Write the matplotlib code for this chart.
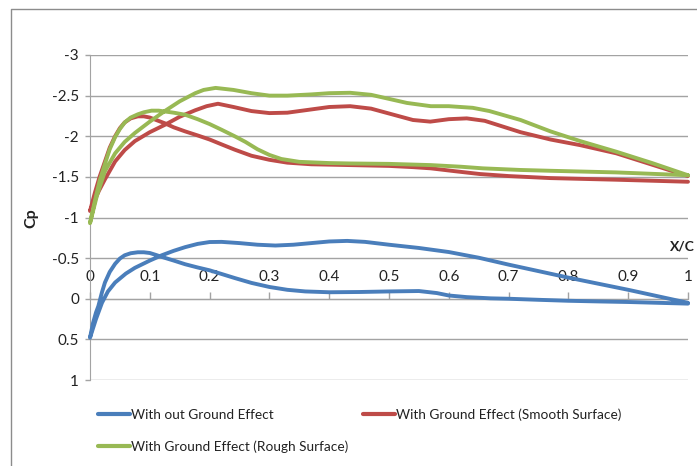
import matplotlib
matplotlib.use("Agg")
import matplotlib.pyplot as plt
from matplotlib.lines import Line2D

# ---------------------------------------------------------------------------
# Pressure coefficient distributions (Cp vs x/c).
# Each case is a closed loop: surface "a" traced from the trailing edge to the
# leading edge, then surface "b" from the leading edge back to the trailing edge.
# ---------------------------------------------------------------------------

# Without ground effect
x_free_a = [1.0, 0.95, 0.9, 0.85, 0.8, 0.75, 0.7, 0.65, 0.6, 0.55, 0.5, 0.46,
            0.43, 0.4, 0.37, 0.34, 0.31, 0.28, 0.25, 0.22, 0.2, 0.18, 0.159,
            0.14, 0.12, 0.1, 0.075, 0.06, 0.042, 0.03, 0.02, 0.01, 0.0]
cp_free_a = [0.05, -0.03, -0.11, -0.185, -0.26, -0.34, -0.42, -0.505, -0.575,
             -0.625, -0.665, -0.70, -0.712, -0.705, -0.685, -0.665, -0.655,
             -0.665, -0.685, -0.70, -0.698, -0.675, -0.635, -0.59, -0.535,
             -0.47, -0.38, -0.31, -0.2, -0.09, 0.05, 0.25, 0.48]
x_free_b = [0.0, 0.005, 0.01, 0.014, 0.02, 0.025, 0.033, 0.042, 0.05, 0.058,
            0.068, 0.08, 0.09, 0.1, 0.11, 0.12, 0.14, 0.159, 0.18, 0.2, 0.22,
            0.242, 0.27, 0.3, 0.33, 0.36, 0.4, 0.45, 0.5, 0.55, 0.58, 0.6,
            0.63, 0.67, 0.7, 0.75, 0.8, 0.85, 0.9, 0.95, 1.0]
cp_free_b = [0.48, 0.3, 0.17, 0.09, -0.08, -0.2, -0.33, -0.43, -0.495, -0.535,
             -0.56, -0.572, -0.572, -0.563, -0.54, -0.515, -0.47, -0.425,
             -0.385, -0.35, -0.305, -0.255, -0.195, -0.145, -0.11, -0.09,
             -0.08, -0.083, -0.09, -0.095, -0.07, -0.04, -0.02, -0.005, 0.0,
             0.013, 0.025, 0.033, 0.04, 0.05, 0.06]

# With ground effect, smooth surface
x_smooth_a = [1.0, 0.94, 0.88, 0.82, 0.77, 0.72, 0.69, 0.66, 0.63, 0.6, 0.569,
              0.54, 0.5, 0.47, 0.435, 0.4, 0.37, 0.33, 0.3, 0.27, 0.24, 0.214,
              0.195, 0.176, 0.15, 0.125, 0.1, 0.075, 0.058, 0.042, 0.025,
              0.015, 0.0]
cp_smooth_a = [-1.51, -1.65, -1.79, -1.89, -1.96, -2.05, -2.12, -2.19, -2.22,
               -2.21, -2.18, -2.2, -2.28, -2.34, -2.37, -2.36, -2.33, -2.29,
               -2.285, -2.31, -2.36, -2.40, -2.37, -2.32, -2.24, -2.14, -2.05,
               -1.94, -1.83, -1.69, -1.47, -1.33, -1.08]
x_smooth_b = [0.0, 0.008, 0.016, 0.025, 0.033, 0.042, 0.05, 0.058, 0.068, 0.08,
              0.09, 0.1, 0.125, 0.14, 0.159, 0.18, 0.2, 0.22, 0.242, 0.27, 0.3,
              0.33, 0.37, 0.435, 0.5, 0.54, 0.57, 0.61, 0.652, 0.7, 0.77, 0.88,
              1.0]
cp_smooth_b = [-1.08, -1.3, -1.5, -1.69, -1.86, -2.0, -2.1, -2.17, -2.22,
               -2.245, -2.245, -2.23, -2.16, -2.11, -2.06, -2.01, -1.96, -1.9,
               -1.835, -1.76, -1.71, -1.675, -1.655, -1.645, -1.635, -1.62,
               -1.605, -1.57, -1.535, -1.51, -1.485, -1.465, -1.44]

# With ground effect, rough surface
x_rough_a = [1.0, 0.94, 0.88, 0.82, 0.77, 0.72, 0.668, 0.64, 0.6, 0.57, 0.53,
             0.5, 0.47, 0.435, 0.4, 0.37, 0.33, 0.3, 0.27, 0.24, 0.21, 0.19,
             0.176, 0.15, 0.125, 0.1, 0.075, 0.058, 0.042, 0.025, 0.012, 0.0]
cp_rough_a = [-1.52, -1.67, -1.81, -1.94, -2.06, -2.2, -2.31, -2.35, -2.37,
              -2.37, -2.41, -2.46, -2.51, -2.535, -2.53, -2.515, -2.5, -2.5,
              -2.53, -2.57, -2.595, -2.57, -2.53, -2.43, -2.31, -2.18, -2.04,
              -1.93, -1.79, -1.57, -1.28, -0.93]
x_rough_b = [0.0, 0.008, 0.016, 0.025, 0.033, 0.042, 0.05, 0.058, 0.068, 0.08,
             0.09, 0.103, 0.115, 0.125, 0.14, 0.159, 0.18, 0.2, 0.22, 0.242,
             0.26, 0.28, 0.3, 0.32, 0.35, 0.4, 0.435, 0.5, 0.57, 0.62, 0.657,
             0.72, 0.77, 0.88, 1.0]
cp_rough_b = [-0.93, -1.2, -1.45, -1.66, -1.84, -1.99, -2.09, -2.17, -2.23,
              -2.27, -2.295, -2.315, -2.315, -2.305, -2.29, -2.265, -2.21,
              -2.15, -2.08, -2.0, -1.93, -1.84, -1.77, -1.72, -1.685, -1.67,
              -1.665, -1.66, -1.645, -1.625, -1.605, -1.585, -1.575, -1.555,
              -1.52]

series_labels = ["With out Ground Effect",
                 "With Ground Effect (Smooth Surface)",
                 "With Ground Effect (Rough Surface)"]
series_colors = ["#4A7EBB", "#BE4B48", "#98B954"]

x_ticks = [0.0, 0.1, 0.2, 0.3, 0.4, 0.5, 0.6, 0.7, 0.8, 0.9, 1.0]
x_tick_labels = ["0", "0.1", "0.2", "0.3", "0.4", "0.5", "0.6", "0.7", "0.8",
                 "0.9", "1"]
y_ticks = [-3.0, -2.5, -2.0, -1.5, -1.0, -0.5, 0.0, 0.5, 1.0]
y_tick_labels = ["-3", "-2.5", "-2", "-1.5", "-1", "-0.5", "0", "0.5", "1"]

plt.rcParams["font.family"] = ["Lato", "DejaVu Sans"]

W, H = 697, 466
fig = plt.figure(figsize=(W / 100, H / 100), dpi=100)

# chart-area frame (left and top edges)
fig.add_artist(Line2D([10.5 / W, 10.5 / W, 0.999], [0.0, 1 - 8.5 / H, 1 - 8.5 / H],
                      transform=fig.transFigure, color="#8c8c8c", linewidth=1.0))

ax = fig.add_axes([90 / W, 1 - 380 / H, 598 / W, 325 / H])
ax.set_xlim(0, 1)
ax.set_ylim(1, -3)

grid_col = "#a3a3a3"
ax.set_yticks(y_ticks)
ax.set_yticklabels(y_tick_labels)
ax.set_xticks(x_ticks)
ax.set_xticklabels(x_tick_labels)
ax.grid(axis="y", color=grid_col, linewidth=1.0)
ax.set_axisbelow(True)

# x axis drawn through Cp = 0 with labels above it
ax.xaxis.set_ticks_position("top")
ax.spines["top"].set_position(("data", 0))
ax.spines["top"].set_color(grid_col)
ax.spines["bottom"].set_visible(False)
ax.spines["right"].set_visible(False)
ax.spines["left"].set_color(grid_col)
ax.tick_params(axis="x", direction="out", length=5.3, width=1.0,
               color=grid_col, pad=5.0, labelsize=11, labelcolor="#222222")
ax.tick_params(axis="y", direction="out", length=3.6, width=1.0,
               color=grid_col, pad=4.3, labelsize=11, labelcolor="#222222")

surfaces = [
    (x_free_a, cp_free_a, x_free_b, cp_free_b),
    (x_smooth_a, cp_smooth_a, x_smooth_b, cp_smooth_b),
    (x_rough_a, cp_rough_a, x_rough_b, cp_rough_b),
]
handles = []
for (xa, ca, xb, cb), lab, col in zip(surfaces, series_labels, series_colors):
    h, = ax.plot(xa + xb[1:], ca + cb[1:], color=col, linewidth=2.8,
                 solid_joinstyle="round", solid_capstyle="round",
                 label=lab, clip_on=False, zorder=3)
    handles.append(h)

ax.set_ylabel("Cp", fontsize=11.5, fontweight="bold", color="#222222")
ax.yaxis.set_label_coords((38 - 90) / 598, (380 - 218) / 325)
ax.set_xlabel("X/C", fontsize=10, fontweight="bold", color="#222222")
ax.xaxis.set_label_coords((682 - 90) / 598, (380 - 246) / 325)
ax.xaxis.label.set_verticalalignment("center")

# legend: blue and green in the first column, red in the second
leg = fig.legend([handles[0], handles[2], handles[1]],
                 [series_labels[0], series_labels[2], series_labels[1]],
                 ncol=2, loc="upper left",
                 bbox_to_anchor=(97.7 / W, 1 - 408.5 / H),
                 frameon=False, fontsize=9.8, handlelength=2.35,
                 handletextpad=0.12, columnspacing=1.03, borderpad=0,
                 borderaxespad=0, labelspacing=1.4)
for t in leg.get_texts():
    t.set_color("#222222")
for l in leg.get_lines():
    l.set_linewidth(3.0)

fig.savefig("out.png", dpi=100)
